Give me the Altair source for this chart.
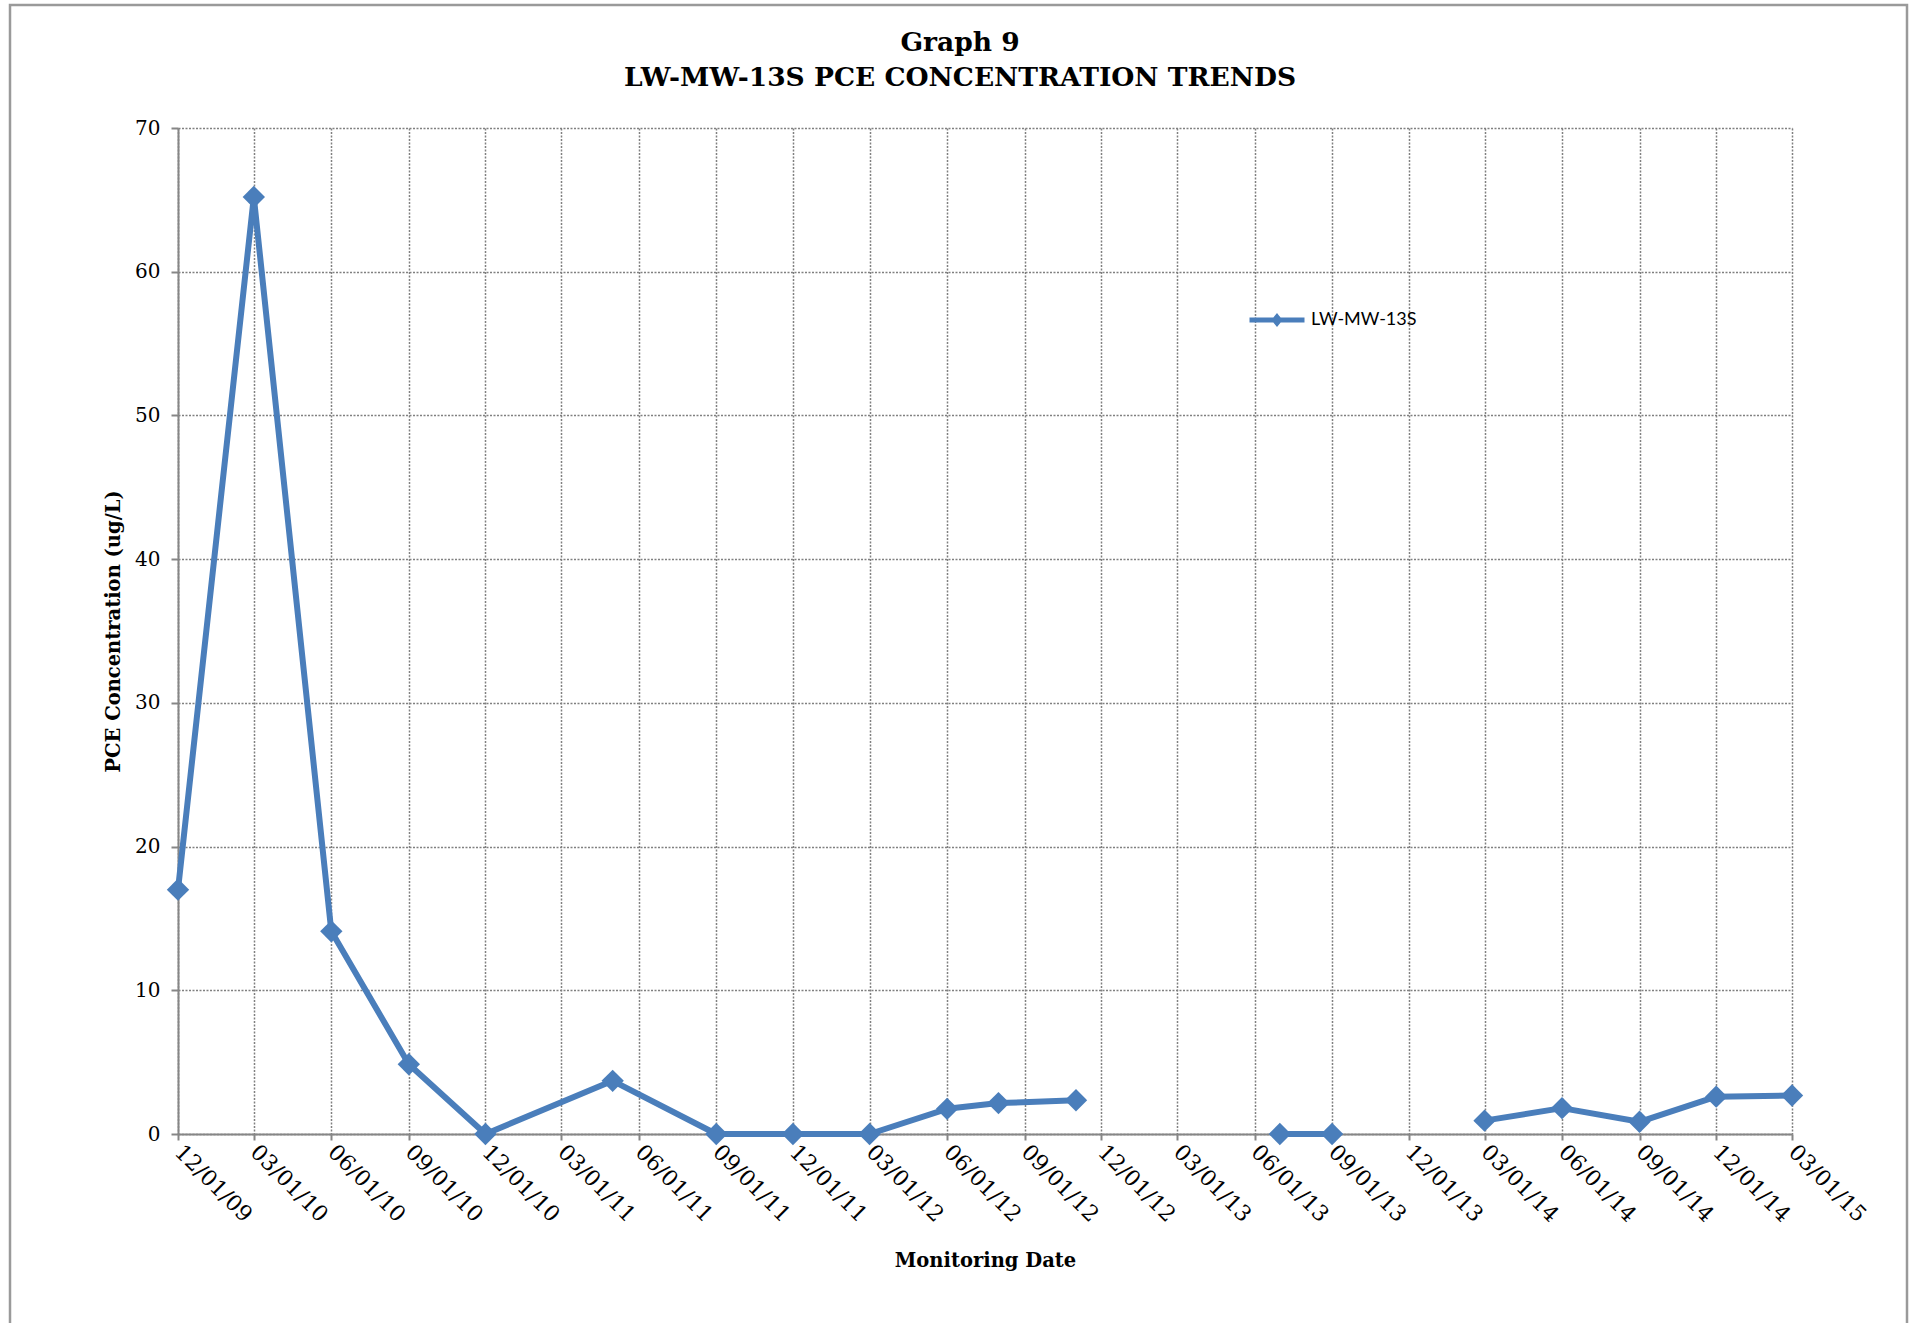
import altair as alt
import pandas as pd

# Monitoring results for well LW-MW-13S
sample_dates = [
    "2009-12-01", "2010-03-01", "2010-06-01", "2010-09-01", "2010-12-01",
    "2011-05-01", "2011-09-01", "2011-12-01", "2012-03-01", "2012-06-01",
    "2012-08-01", "2012-11-01",
    "2013-07-01", "2013-09-01",
    "2014-03-01", "2014-06-01", "2014-09-01", "2014-12-01", "2015-03-01",
]
pce_values = [
    17.0, 65.2, 14.1, 4.85, 0.0,
    3.7, 0.0, 0.0, 0.0, 1.75,
    2.15, 2.35,
    0.0, 0.0,
    0.93, 1.8, 0.85, 2.6, 2.68,
]
# sampling runs separated by gaps in the record (line is broken between runs)
run_ids = [1] * 12 + [2] * 2 + [3] * 5
well_name = "LW-MW-13S"

# quarterly axis ticks
tick_labels = [
    "12/01/09", "03/01/10", "06/01/10", "09/01/10", "12/01/10", "03/01/11",
    "06/01/11", "09/01/11", "12/01/11", "03/01/12", "06/01/12", "09/01/12",
    "12/01/12", "03/01/13", "06/01/13", "09/01/13", "12/01/13", "03/01/14",
    "06/01/14", "09/01/14", "12/01/14", "03/01/15",
]
y_ticks = [0, 10, 20, 30, 40, 50, 60, 70]


def to_ms(label):
    ts = pd.to_datetime(label, format="%m/%d/%y").tz_localize("UTC")
    return int(ts.value // 10**6)


tick_ms = [to_ms(t) for t in tick_labels]

df = pd.DataFrame({
    "date": sample_dates,
    "pce": pce_values,
    "run": run_ids,
    "well": [well_name] * len(sample_dates),
})

BLUE = "#4A7EBB"
GRAY = "#868686"
GRID = "#808080"
SERIF = "DejaVu Serif"

axis_style = dict(
    domainColor=GRAY,
    domainWidth=2,
    tickColor=GRAY,
    tickWidth=2,
    grid=True,
    gridColor=GRID,
    gridWidth=1.5,
    gridDash=[2, 1.5],
    gridOpacity=1,
)

x_enc = alt.X(
    "date:T",
    scale=alt.Scale(type="utc", domain=[tick_ms[0], tick_ms[-1]], nice=False),
    axis=alt.Axis(
        values=tick_ms,
        labelExpr="utcFormat(datum.value, '%m/%d/%y')",
        labelAngle=45,
        labelAlign="left",
        labelBaseline="middle",
        labelPadding=8,
        labelFont=SERIF,
        labelFontSize=22,
        labelColor="black",
        labelOverlap=False,
        title="Monitoring Date",
        titleFont=SERIF,
        titleFontSize=19.5,
        titleFontWeight="bold",
        titleColor="black",
        titlePadding=26,
        tickSize=6,
        **axis_style,
    ),
)
y_enc = alt.Y(
    "pce:Q",
    scale=alt.Scale(domain=[0, 70], nice=False),
    axis=alt.Axis(
        values=y_ticks,
        labelFont=SERIF,
        labelFontSize=20,
        labelColor="black",
        labelPadding=11,
        title="PCE Concentration (ug/L)",
        titleFont=SERIF,
        titleFontSize=19.5,
        titleFontWeight="bold",
        titleColor="black",
        titlePadding=11,
        tickSize=7,
        **axis_style,
    ),
)

legend_symbol = "M-1,0L1,0M0,-0.11L0.09,0L0,0.11L-0.09,0Z"

line = alt.Chart(df).mark_line(strokeWidth=6, strokeJoin="round").encode(
    x=x_enc,
    y=y_enc,
    detail="run:N",
    color=alt.Color(
        "well:N",
        scale=alt.Scale(range=[BLUE]),
        legend=alt.Legend(
            title=None,
            orient="none",
            legendX=1069,
            legendY=162,
            symbolType=legend_symbol,
            symbolSize=3025,
            symbolStrokeWidth=5,
            symbolFillColor=BLUE,
            labelFont="Lato",
            labelFontSize=18,
            labelColor="black",
            labelOffset=4,
        ),
    ),
)

points = alt.Chart(df).mark_point(
    shape="diamond", size=500, filled=True, color=BLUE, opacity=1
).encode(x=x_enc, y=y_enc)

# outer chart border (extends above the plot area, so the title is shifted back down)
frame = alt.Chart(alt.Data(values=[{}])).mark_rect(
    fillOpacity=0, stroke="#9a9a9a", strokeWidth=2.5
).encode(
    x=alt.value(-168), x2=alt.value(1729), y=alt.value(-123), y2=alt.value(1230)
)

chart = alt.layer(frame, line, points).properties(
    width=1614,
    height=1006,
    background="white",
    autosize=alt.AutoSizeParams(type="none"),
    padding={"left": 178, "top": 128, "right": 125, "bottom": 189},
    title=alt.TitleParams(
        text=["Graph 9", "LW-MW-13S PCE CONCENTRATION TRENDS"],
        font=SERIF,
        fontSize=26.5,
        fontWeight="bold",
        color="black",
        anchor="middle",
        frame="group",
        dx=-25,
        dy=124,
        offset=36,
        lineHeight=35,
    ),
).configure_view(
    stroke=None
)

chart.save("out.html", embed_options={"renderer": "svg", "actions": False})
